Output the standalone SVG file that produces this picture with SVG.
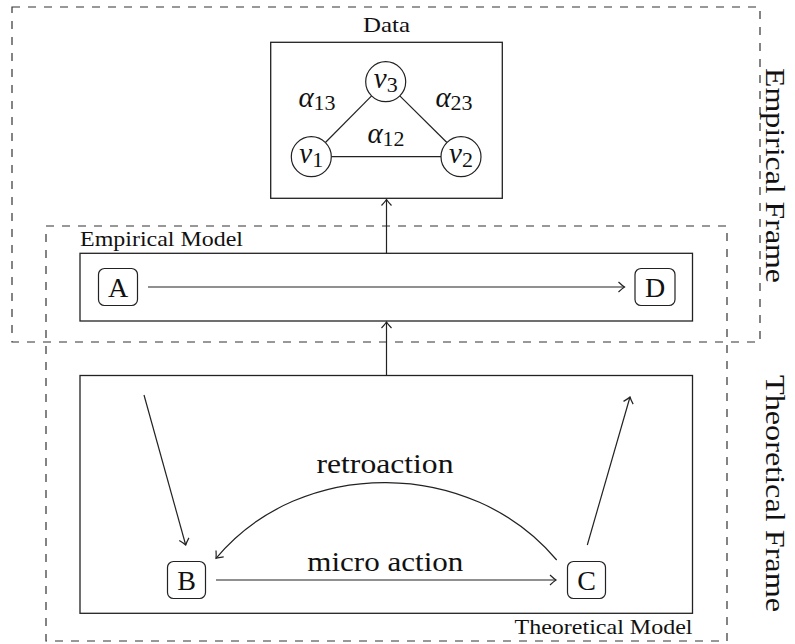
<svg xmlns="http://www.w3.org/2000/svg" width="795" height="644" viewBox="0 0 795 644" font-family="'Liberation Serif', 'Times New Roman', Times, serif">
  <style>
    .frame { fill: none; stroke: #333; stroke-width: 1.2; stroke-dasharray: 8 8; }
    .box { fill: none; stroke: #222; stroke-width: 1.3; }
    .node { fill: #fff; stroke: #222; stroke-width: 1.2; }
    .edge { fill: none; stroke: #222; stroke-width: 1.2; }
    .arrow { fill: none; stroke: #222; stroke-width: 1.2; marker-end: url(#tip); }
    text { fill: #111; }
    .small { font-size: 22px; }
    .big { font-size: 28px; }
    .math { font-size: 29px; font-style: italic; }
    .sub { font-size: 22px; font-style: normal; }
  </style>
  <defs>
    <marker id="tip" markerUnits="userSpaceOnUse" markerWidth="14" markerHeight="14" viewBox="-8 -7 10 14" refX="0" refY="0" orient="auto">
      <path d="M -6 -5 Q -2 -1.2 0 0 Q -2 1.2 -6 5" fill="none" stroke="#222" stroke-width="1.2"/>
    </marker>
  </defs>

  <!-- outer dashed frames -->
  <g id="empirical-frame">
    <rect class="frame" x="12" y="7" width="748" height="335"/>
    <text class="big" transform="translate(766,175.5) rotate(90)" text-anchor="middle" textLength="215" lengthAdjust="spacingAndGlyphs">Empirical Frame</text>
  </g>
  <g id="theoretical-frame">
    <rect class="frame" x="46" y="226" width="681" height="415"/>
    <text class="big" transform="translate(766,493.5) rotate(90)" text-anchor="middle" textLength="237" lengthAdjust="spacingAndGlyphs">Theoretical Frame</text>
  </g>

  <!-- data panel with the three-variable graph -->
  <g id="data">
    <rect class="box" x="270.7" y="42.3" width="231.6" height="156"/>
    <text class="small" x="386.5" y="32" text-anchor="middle" textLength="47" lengthAdjust="spacingAndGlyphs">Data</text>
    <line class="edge" x1="325.4" y1="142.5" x2="371.6" y2="95.9"/>
    <line class="edge" x1="399.8" y1="95.9" x2="446.9" y2="142.5"/>
    <line class="edge" x1="331.3" y1="156.7" x2="441" y2="156.7"/>
    <text class="math" x="317" y="106.7" text-anchor="middle">α<tspan class="sub" dy="3">13</tspan></text>
    <text class="math" x="454" y="106.7" text-anchor="middle">α<tspan class="sub" dy="3">23</tspan></text>
    <text class="math" x="386" y="143.3" text-anchor="middle">α<tspan class="sub" dy="3">12</tspan></text>
  </g>
  <g id="v1">
    <circle class="node" cx="311.3" cy="156.7" r="20"/>
    <text class="math" x="311.3" y="163" text-anchor="middle">v<tspan class="sub" dy="3.5">1</tspan></text>
  </g>
  <g id="v2">
    <circle class="node" cx="461" cy="156.7" r="20"/>
    <text class="math" x="461" y="163" text-anchor="middle">v<tspan class="sub" dy="3.5">2</tspan></text>
  </g>
  <g id="v3">
    <circle class="node" cx="385.7" cy="81.7" r="20"/>
    <text class="math" x="385.7" y="88" text-anchor="middle">v<tspan class="sub" dy="3.5">3</tspan></text>
  </g>

  <!-- model panels -->
  <g id="empirical-model">
    <rect class="box" x="80" y="253.3" width="612.5" height="67.7"/>
    <text class="small" x="80" y="246" textLength="163" lengthAdjust="spacingAndGlyphs">Empirical Model</text>
  </g>
  <g id="theoretical-model">
    <rect class="box" x="80" y="375.5" width="612.5" height="237.8"/>
    <text class="small" x="692.5" y="634" text-anchor="end" textLength="178" lengthAdjust="spacingAndGlyphs">Theoretical Model</text>
  </g>

  <g id="A">
    <rect class="node" x="98.5" y="268.5" width="39" height="37" rx="6"/>
    <text class="big" x="118" y="297" text-anchor="middle">A</text>
  </g>
  <g id="D">
    <rect class="node" x="635" y="268.5" width="40" height="37" rx="6"/>
    <text class="big" x="655" y="297" text-anchor="middle">D</text>
  </g>
  <g id="B">
    <rect class="node" x="167.5" y="561.5" width="38" height="37" rx="6"/>
    <text class="big" x="186.5" y="590" text-anchor="middle">B</text>
  </g>
  <g id="C">
    <rect class="node" x="567.5" y="561.5" width="38" height="37" rx="6"/>
    <text class="big" x="586.5" y="590" text-anchor="middle">C</text>
  </g>

  <!-- connectors -->
  <g id="connectors">
    <path class="arrow" d="M 386.5 253.3 V 199.5"/>
    <path class="arrow" d="M 386.5 375.5 V 322"/>
    <path class="arrow" d="M 148 287 H 624.5"/>
    <path class="arrow" d="M 216 580 H 556"/>
    <path class="arrow" d="M 556.7 560 C 471.2 458 301.5 456 216 558.3"/>
    <path class="arrow" d="M 144 395 L 185.7 545"/>
    <path class="arrow" d="M 587.3 545 L 630 397"/>
    <text class="big" x="385" y="473" text-anchor="middle" textLength="137" lengthAdjust="spacingAndGlyphs">retroaction</text>
    <text class="big" x="385.3" y="570.5" text-anchor="middle" textLength="156" lengthAdjust="spacingAndGlyphs">micro action</text>
  </g>
</svg>
